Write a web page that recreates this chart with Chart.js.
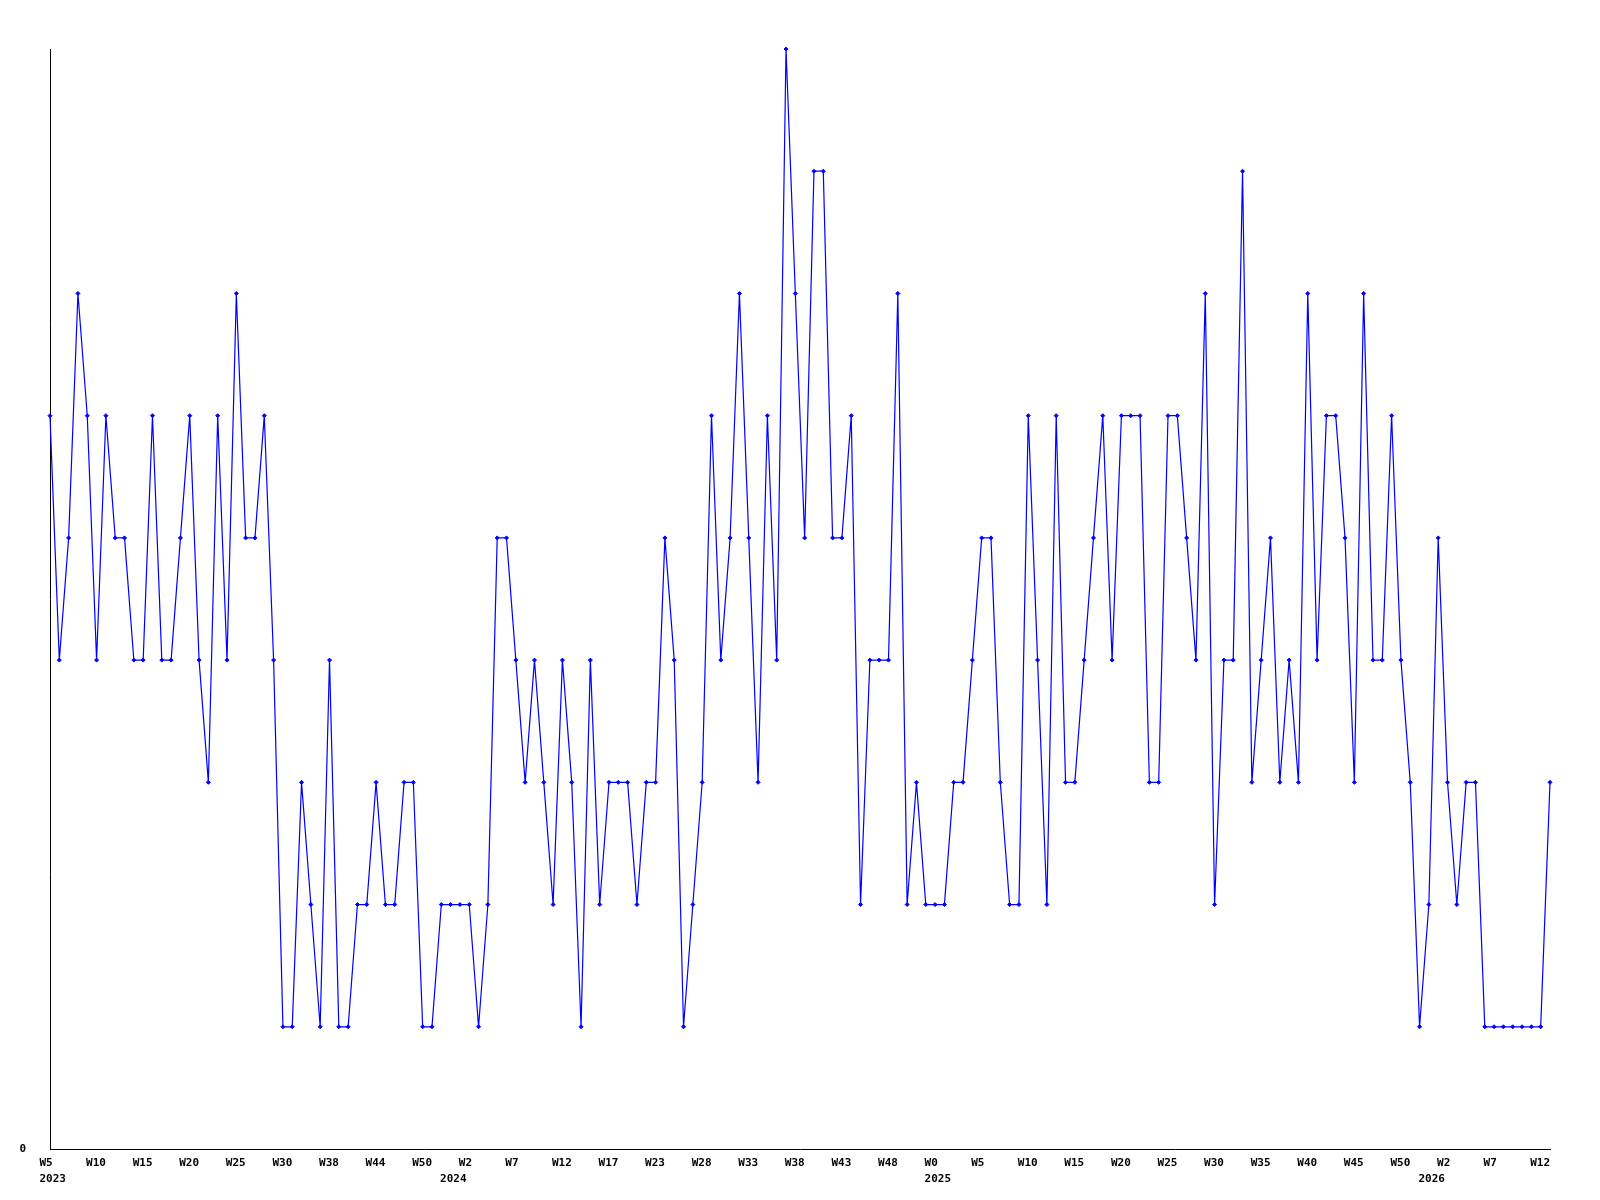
<!DOCTYPE html>
<html>
<head>
<meta charset="utf-8">
<title>Weekly count</title>
<script src="https://cdn.jsdelivr.net/npm/chart.js@4.4.1/dist/chart.umd.min.js"></script>
<style>
  html, body { margin: 0; padding: 0; background: #fff; }
  #chart { display: block; }
</style>
</head>
<body>
<canvas id="chart" width="1600" height="1200"></canvas>
<script>
// --- DATA ---
// one value per week (2023 W5 .. 2026 W13)
const weeklyCounts = [
  6, 4, 5, 7, 6, 4, 6, 5, 5, 4,
  4, 6, 4, 4, 5, 6, 4, 3, 6, 4,
  7, 5, 5, 6, 4, 1, 1, 3, 2, 1,
  4, 1, 1, 2, 2, 3, 2, 2, 3, 3,
  1, 1, 2, 2, 2, 2, 1, 2, 5, 5,
  4, 3, 4, 3, 2, 4, 3, 1, 4, 2,
  3, 3, 3, 2, 3, 3, 5, 4, 1, 2,
  3, 6, 4, 5, 7, 5, 3, 6, 4, 9,
  7, 5, 8, 8, 5, 5, 6, 2, 4, 4,
  4, 7, 2, 3, 2, 2, 2, 3, 3, 4,
  5, 5, 3, 2, 2, 6, 4, 2, 6, 3,
  3, 4, 5, 6, 4, 6, 6, 6, 3, 3,
  6, 6, 5, 4, 7, 2, 4, 4, 8, 3,
  4, 5, 3, 4, 3, 7, 4, 6, 6, 5,
  3, 7, 4, 4, 6, 4, 3, 1, 2, 5,
  3, 2, 3, 3, 1, 1, 1, 1, 1, 1,
  1, 3
];

// a week label on every 5th point
const weekTicks = [
  'W5', 'W10', 'W15', 'W20', 'W25', 'W30', 'W38', 'W44', 'W50', 'W2',
  'W7', 'W12', 'W17', 'W23', 'W28', 'W33', 'W38', 'W43', 'W48', 'W0',
  'W5', 'W10', 'W15', 'W20', 'W25', 'W30', 'W35', 'W40', 'W45', 'W50',
  'W2', 'W7', 'W12'
];
const tickEvery = 5;

// year shown under the first week of each year
const yearLabels = ['2023', '2024', '2025', '2026'];
const yearStarts = [0, 43, 95, 148];

const yMax = 9;

const LABEL_FONT = 'bold 11px "DejaVu Sans Mono", monospace';

// --- custom x labels: left edge a bit before the point, two rows ---
const weekLabelPlugin = {
  id: 'weekLabels',
  afterDraw(chart) {
    const ctx = chart.ctx;
    const xScale = chart.scales.x;
    const bottom = chart.chartArea.bottom;
    ctx.save();
    ctx.font = LABEL_FONT;
    ctx.fillStyle = '#000';
    ctx.textAlign = 'left';
    ctx.textBaseline = 'middle';
    weekTicks.forEach((label, k) => {
      ctx.fillText(label, xScale.getPixelForValue(k * tickEvery) - 10.5, bottom + 14);
    });
    yearLabels.forEach((label, k) => {
      ctx.fillText(label, xScale.getPixelForValue(yearStarts[k]) - 10.5, bottom + 30);
    });
    ctx.restore();
  }
};

const labels = weeklyCounts.map((_, i) => i);

new Chart(document.getElementById('chart'), {
  type: 'line',
  data: {
    labels: labels,
    datasets: [{
      data: weeklyCounts,
      borderColor: '#0000ff',
      backgroundColor: '#0000ff',
      borderWidth: 1.2,
      pointStyle: 'rectRot',
      pointRadius: 2,
      pointBorderWidth: 1,
      tension: 0,
      fill: false,
      clip: false
    }]
  },
  options: {
    responsive: false,
    animation: false,
    devicePixelRatio: 1,
    layout: { padding: { top: 49, right: 50, left: 0, bottom: 0 } },
    plugins: {
      legend: { display: false },
      tooltip: { enabled: false }
    },
    scales: {
      x: {
        type: 'category',
        offset: false,
        grid: { display: false, drawTicks: false },
        border: { display: true, color: '#000', width: 1 },
        ticks: { display: false },
        afterFit(scale) { scale.height = 51; }
      },
      y: {
        min: 0,
        max: yMax,
        grid: { display: false, drawTicks: false },
        border: { display: true, color: '#000', width: 1 },
        ticks: {
          stepSize: yMax,
          padding: 24,
          color: '#000',
          font: { family: '"DejaVu Sans Mono", monospace', size: 11, weight: 'bold' },
          callback: v => (v === 0 ? '0' : '')
        },
        afterFit(scale) { scale.width = 50; }
      }
    }
  },
  plugins: [weekLabelPlugin]
});
</script>
</body>
</html>
